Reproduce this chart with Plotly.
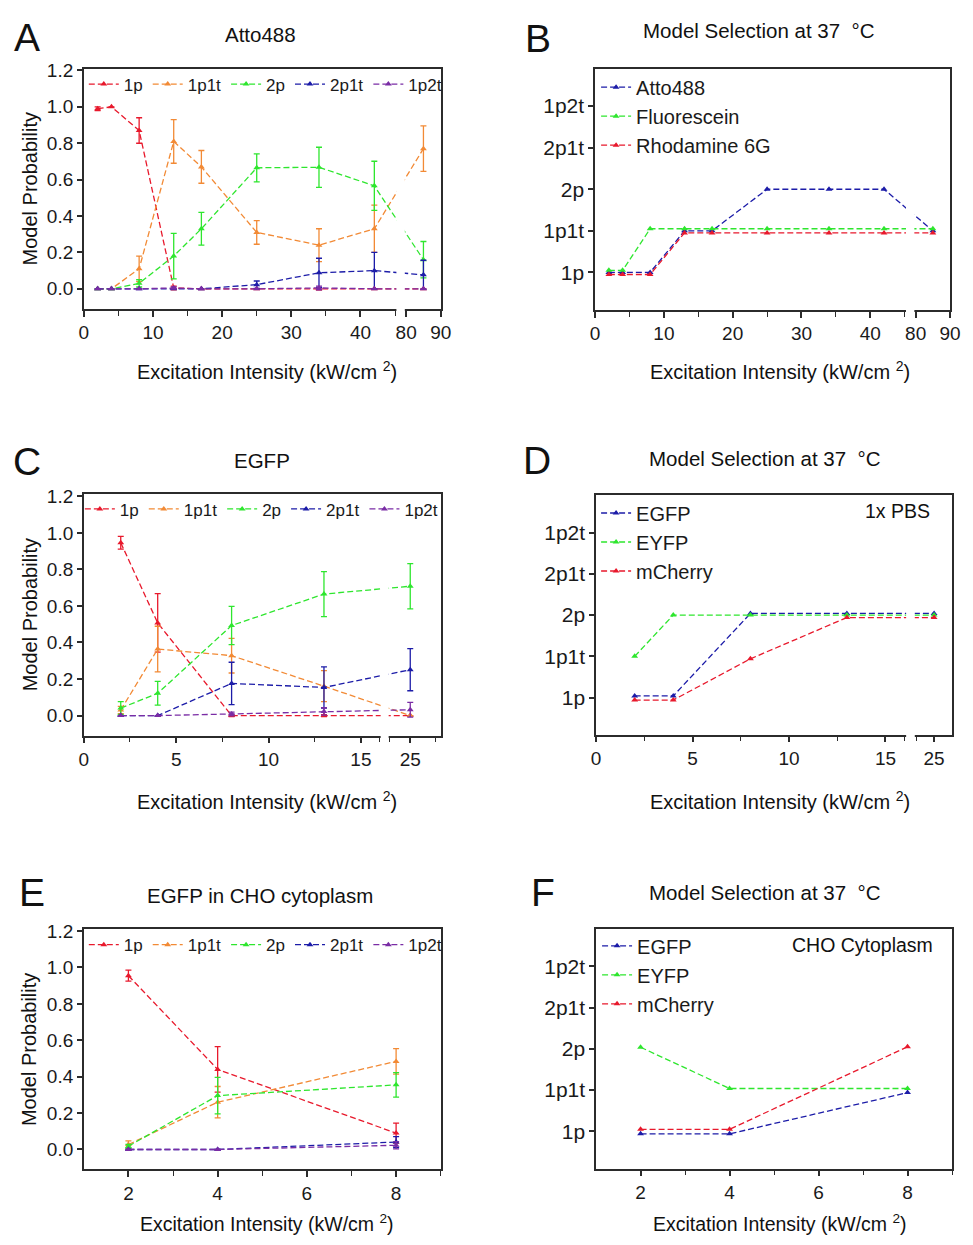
import plotly.graph_objects as go

# ------------------------------------------------------------------ data
levels = ['1p', '1p1t', '2p', '2p1t', '1p2t']
models = ['1p', '1p1t', '2p', '2p1t', '1p2t']

# Panel A : Atto488
a_x = [2, 4, 8, 13, 17, 25, 34, 42, 85]
a_1p = [0.99, 1.00, 0.87, 0.005, 0.0, 0.0, 0.0, 0.0, 0.0]
a_1p_err = [0.01, 0.0, 0.07, 0.01, 0.0, 0.0, 0.005, 0.0, 0.0]
a_1p1t = [0.0, 0.0, 0.11, 0.81, 0.67, 0.31, 0.24, 0.33, 0.77]
a_1p1t_err = [0.0, 0.0, 0.07, 0.12, 0.09, 0.065, 0.09, 0.13, 0.125]
a_2p = [0.0, 0.0, 0.03, 0.18, 0.33, 0.665, 0.668, 0.566, 0.16]
a_2p_err = [0.0, 0.0, 0.02, 0.125, 0.09, 0.077, 0.11, 0.135, 0.1]
a_2p1t = [0.0, 0.0, 0.0, 0.0, 0.0, 0.023, 0.088, 0.10, 0.077]
a_2p1t_err = [0.0, 0.0, 0.0, 0.0, 0.0, 0.02, 0.08, 0.10, 0.08]
a_1p2t = [0.0, 0.0, 0.0, 0.005, 0.0, 0.0, 0.005, 0.0, 0.0]
a_1p2t_err = [0.0, 0.0, 0.0, 0.005, 0.0, 0.0, 0.01, 0.0, 0.0]

# Panel B : model selection, dyes
b_x = [2, 4, 8, 13, 17, 25, 34, 42, 85]
b_atto488 = ['1p', '1p', '1p', '1p1t', '1p1t', '2p', '2p', '2p', '1p1t']
b_fluorescein = ['1p', '1p', '1p1t', '1p1t', '1p1t', '1p1t', '1p1t', '1p1t', '1p1t']
b_rhodamine = ['1p', '1p', '1p', '1p1t', '1p1t', '1p1t', '1p1t', '1p1t', '1p1t']

# Panel C : EGFP
c_x = [2, 4, 8, 13, 25]
c_1p = [0.946, 0.507, 0.0, 0.0, 0.0]
c_1p_err = [0.035, 0.16, 0.005, 0.005, 0.0]
c_1p1t = [0.03, 0.364, 0.328, 0.161, 0.0]
c_1p1t_err = [0.02, 0.125, 0.095, 0.085, 0.0]
c_2p = [0.041, 0.122, 0.493, 0.665, 0.708]
c_2p_err = [0.035, 0.065, 0.105, 0.123, 0.124]
c_2p1t = [0.0, 0.0, 0.176, 0.154, 0.251]
c_2p1t_err = [0.0, 0.0, 0.116, 0.113, 0.115]
c_1p2t = [0.0, 0.0, 0.009, 0.023, 0.032]
c_1p2t_err = [0.0, 0.0, 0.01, 0.02, 0.04]

# Panel D : model selection, fluorescent proteins in 1x PBS
d_x = [2, 4, 8, 13, 25]
d_egfp = ['1p', '1p', '2p', '2p', '2p']
d_eyfp = ['1p1t', '2p', '2p', '2p', '2p']
d_mcherry = ['1p', '1p', '1p1t', '2p', '2p']

# Panel E : EGFP in CHO cytoplasm
e_x = [2, 4, 8]
e_1p = [0.955, 0.44, 0.09]
e_1p_err = [0.03, 0.125, 0.055]
e_1p1t = [0.027, 0.26, 0.484]
e_1p1t_err = [0.02, 0.086, 0.07]
e_2p = [0.018, 0.296, 0.355]
e_2p_err = [0.01, 0.1, 0.067]
e_2p1t = [0.0, 0.0, 0.041]
e_2p1t_err = [0.0, 0.0, 0.03]
e_1p2t = [0.0, 0.0, 0.023]
e_1p2t_err = [0.0, 0.0, 0.02]

# Panel F : model selection in CHO cytoplasm
f_x = [2, 4, 8]
f_egfp = ['1p', '1p', '1p1t']
f_eyfp = ['2p', '1p1t', '1p1t']
f_mcherry = ['1p', '1p', '2p']

# ------------------------------------------------------------------ style
OFF = 8                      # default margin of the html body around the figure
W, H = 973 - 2 * OFF, 1245 - 2 * OFF
FONT = 'Liberation Sans, Arial, sans-serif'
AX = '#2b2b2b'
RED, ORANGE, GREEN, BLUE, PURPLE = '#e8192c', '#f28a35', '#2ee62e', '#1c1ca8', '#7a2ca5'
model_colors = {'1p': RED, '1p1t': ORANGE, '2p': GREEN, '2p1t': BLUE, '1p2t': PURPLE}
DASH = '6px,3px'


def px_x(p):
    return (p - OFF) / W


def px_y(p):
    return 1 - (p - OFF) / H


def dx(l, r):
    return [px_x(l), px_x(r)]


def dy(t, b):
    return [px_y(b), px_y(t)]


def make_break(cut, start, gap, squeeze):
    def f(v):
        return v if v <= cut else cut + gap + (v - start) * squeeze
    return f


brk_ab = make_break(45, 80, 1.6, 0.5)
brk_c = make_break(16, 23, 0.57, 0.55)
brk_d = make_break(16, 23, 0.59, 0.465)
ident = lambda v: v

fig = go.Figure()


def prob_panel(xs, vals, errs, ax, legend, xmap):
    for m, v, e in zip(models, vals, errs):
        c = model_colors[m]
        fig.add_trace(go.Scatter(
            x=[xmap(x) for x in xs], y=v, name=m, legend=legend,
            xaxis='x' + ax, yaxis='y' + ax, mode='lines+markers',
            line=dict(color=c, width=1.3, dash=DASH),
            marker=dict(symbol='triangle-up', size=6, color=c),
            error_y=dict(type='data', array=e, visible=True, color=c,
                         thickness=1.3, width=3)))


def sel_panel(xs, series, ax, legend, xmap):
    for name, cats, c, off in series:
        fig.add_trace(go.Scatter(
            x=[xmap(x) for x in xs], y=[levels.index(s) + 1 + off for s in cats],
            name=name, legend=legend, xaxis='x' + ax, yaxis='y' + ax,
            mode='lines+markers', line=dict(color=c, width=1.3, dash=DASH),
            marker=dict(symbol='triangle-up', size=6, color=c)))


prob_panel(a_x, [a_1p, a_1p1t, a_2p, a_2p1t, a_1p2t],
           [a_1p_err, a_1p1t_err, a_2p_err, a_2p1t_err, a_1p2t_err], '', 'legend', brk_ab)
sel_panel(b_x, [('Atto488', b_atto488, BLUE, 0.0),
                ('Fluorescein', b_fluorescein, GREEN, 0.05),
                ('Rhodamine 6G', b_rhodamine, RED, -0.05)], '2', 'legend2', brk_ab)
prob_panel(c_x, [c_1p, c_1p1t, c_2p, c_2p1t, c_1p2t],
           [c_1p_err, c_1p1t_err, c_2p_err, c_2p1t_err, c_1p2t_err], '3', 'legend3', brk_c)
sel_panel(d_x, [('EGFP', d_egfp, BLUE, 0.04),
                ('EYFP', d_eyfp, GREEN, 0.0),
                ('mCherry', d_mcherry, RED, -0.06)], '4', 'legend4', brk_d)
prob_panel(e_x, [e_1p, e_1p1t, e_2p, e_2p1t, e_1p2t],
           [e_1p_err, e_1p1t_err, e_2p_err, e_2p1t_err, e_1p2t_err], '5', 'legend5', ident)
sel_panel(f_x, [('EGFP', f_egfp, BLUE, -0.06),
                ('EYFP', f_eyfp, GREEN, 0.04),
                ('mCherry', f_mcherry, RED, 0.05)], '6', 'legend6', ident)

# ------------------------------------------------------------------ axes
base = dict(showline=True, linecolor=AX, linewidth=1.5, mirror=True, ticks='outside',
            tickcolor=AX, tickwidth=1.5, ticklen=6, showgrid=False, zeroline=False,
            tickfont=dict(size=19, color='#1a1a1a', family=FONT))
minor = dict(ticks='outside', ticklen=5, tickcolor=AX, tickwidth=1.3, showgrid=False)


def broken_x(domain, anchor, fmap, major, labels, minors, rng):
    return dict(base, domain=domain, anchor=anchor, range=rng, tickmode='array',
                tickvals=[fmap(v) for v in major], ticktext=list(labels),
                minor=dict(minor, tickmode='array', tickvals=[fmap(v) for v in minors]))


prob_y = dict(base, range=[-0.11, 1.21], tickmode='array',
              tickvals=[0, 0.2, 0.4, 0.6, 0.8, 1.0, 1.2], tickformat='.1f', ticklen=5)
sel_y = dict(base, range=[0.1, 5.9], tickmode='array', tickvals=[1, 2, 3, 4, 5],
             ticktext=levels, ticklen=5, tickfont=dict(size=21, color='#1a1a1a', family=FONT))

layout = dict(
    width=W, height=H, margin=dict(l=0, r=0, t=0, b=0),
    paper_bgcolor='white', plot_bgcolor='white',
    font=dict(family=FONT, color='#1a1a1a'),
    xaxis=broken_x(dx(80, 443), 'y', brk_ab, [0, 10, 20, 30, 40, 80, 90],
                   ['0', '10', '20', '30', '40', '80', '90'], [5, 15, 25, 35, 45],
                   [0, brk_ab(90)]),
    yaxis=dict(prob_y, domain=dy(60, 302), anchor='x'),
    xaxis2=broken_x(dx(600, 961), 'y2', brk_ab, [0, 10, 20, 30, 40, 80, 90],
                    ['0', '10', '20', '30', '40', '80', '90'], [5, 15, 25, 35, 45],
                    [0, brk_ab(90)]),
    yaxis2=dict(sel_y, domain=dy(60, 303), anchor='x2'),
    xaxis3=broken_x(dx(80, 443), 'y3', brk_c, [0, 5, 10, 15, 25],
                    ['0', '5', '10', '15', '25'], [2.5, 7.5, 12.5, 16, 23, 27.5],
                    [0, brk_c(28)]),
    yaxis3=dict(prob_y, domain=dy(489, 732), anchor='x3'),
    xaxis4=broken_x(dx(601, 963), 'y4', brk_d, [0, 5, 10, 15, 25],
                    ['0', '5', '10', '15', '25'], [2.5, 7.5, 12.5, 16, 23],
                    [0, brk_d(27)]),
    yaxis4=dict(sel_y, domain=dy(490, 731), anchor='x4'),
    xaxis5=dict(base, domain=dx(80, 443), anchor='y5', range=[1, 9], tickmode='array',
                tickvals=[2, 4, 6, 8], minor=dict(minor, tickmode='array', tickvals=[3, 5, 7, 9])),
    yaxis5=dict(prob_y, domain=dy(927, 1169), anchor='x5'),
    xaxis6=dict(base, domain=dx(601, 963), anchor='y6', range=[1, 9], tickmode='array',
                tickvals=[2, 4, 6, 8], minor=dict(minor, tickmode='array', tickvals=[3, 5, 7, 9])),
    yaxis6=dict(sel_y, domain=dy(927, 1168), anchor='x6'),
)

leg_h = dict(bgcolor='rgba(0,0,0,0)', borderwidth=0, itemwidth=30, orientation='h',
             font=dict(size=17, family=FONT, color='#1a1a1a'), tracegroupgap=0,
             xanchor='left', yanchor='middle')
leg_v = dict(bgcolor='rgba(0,0,0,0)', borderwidth=0, itemwidth=30, orientation='v',
             font=dict(size=20, family=FONT, color='#1a1a1a'), tracegroupgap=0,
             xanchor='left', yanchor='top')
layout['legend'] = dict(leg_h, x=px_x(80), y=px_y(76))
layout['legend3'] = dict(leg_h, x=px_x(76), y=px_y(504))
layout['legend5'] = dict(leg_h, x=px_x(80), y=px_y(943))
layout['legend2'] = dict(leg_v, x=px_x(601), y=px_y(59))
layout['legend4'] = dict(leg_v, x=px_x(601), y=px_y(488))
layout['legend6'] = dict(leg_v, x=px_x(602), y=px_y(924))
fig.update_layout(**layout)

# white gaps marking the axis breaks
for ax, fmap, cut, start in [('', brk_ab, 45, 80), ('2', brk_ab, 45, 80),
                             ('3', brk_c, 16, 23), ('4', brk_d, 16, 23)]:
    a, b = fmap(cut), fmap(start)
    inset = (b - a) * 0.12
    fig.add_shape(type='rect', xref='x' + ax, yref='y' + ax + ' domain',
                  x0=a + inset, x1=b - inset, y0=-0.012, y1=0.99,
                  fillcolor='white', line=dict(width=0), layer='above')


# ------------------------------------------------------------------ text
def ann(text, x, y, size, **kw):
    fig.add_annotation(text=text, x=px_x(x), y=px_y(y), xref='paper', yref='paper',
                       showarrow=False, font=dict(size=size, family=FONT, color='#111'),
                       xanchor=kw.pop('xanchor', 'center'), yanchor=kw.pop('yanchor', 'middle'),
                       **kw)


for letter, x, y in [('A', 22, 29), ('B', 542, 30), ('C', 22, 456),
                     ('D', 541, 455), ('E', 27, 890), ('F', 547, 890)]:
    ann(letter, x, y, 39)

for t, x, y in [('Atto488', 260, 26), ('Model Selection at 37  °C', 767, 22),
                ('EGFP', 261, 455), ('Model Selection at 37  °C', 773, 453),
                ('EGFP in CHO cytoplasm', 259, 893), ('Model Selection at 37  °C', 773, 890)]:
    ann(t, x, y, 20.5)

XT = 'Excitation Intensity (kW/cm <sup>2</sup>)'
for x, y, s in [(266, 364, 20), (788, 364, 20), (266, 797, 20), (788, 797, 20),
                (266, 1223, 19.5), (788, 1223, 19.5)]:
    ann(XT, x, y, s)

for y in [181, 610, 1048]:
    ann('Model Probability', 25, y, 20, textangle=-90)

ann('1x PBS', 943, 506, 19.5, xanchor='right')
ann('CHO Cytoplasm', 946, 943, 19.5, xanchor='right')

fig.write_html('out.html', config={'displayModeBar': False})
